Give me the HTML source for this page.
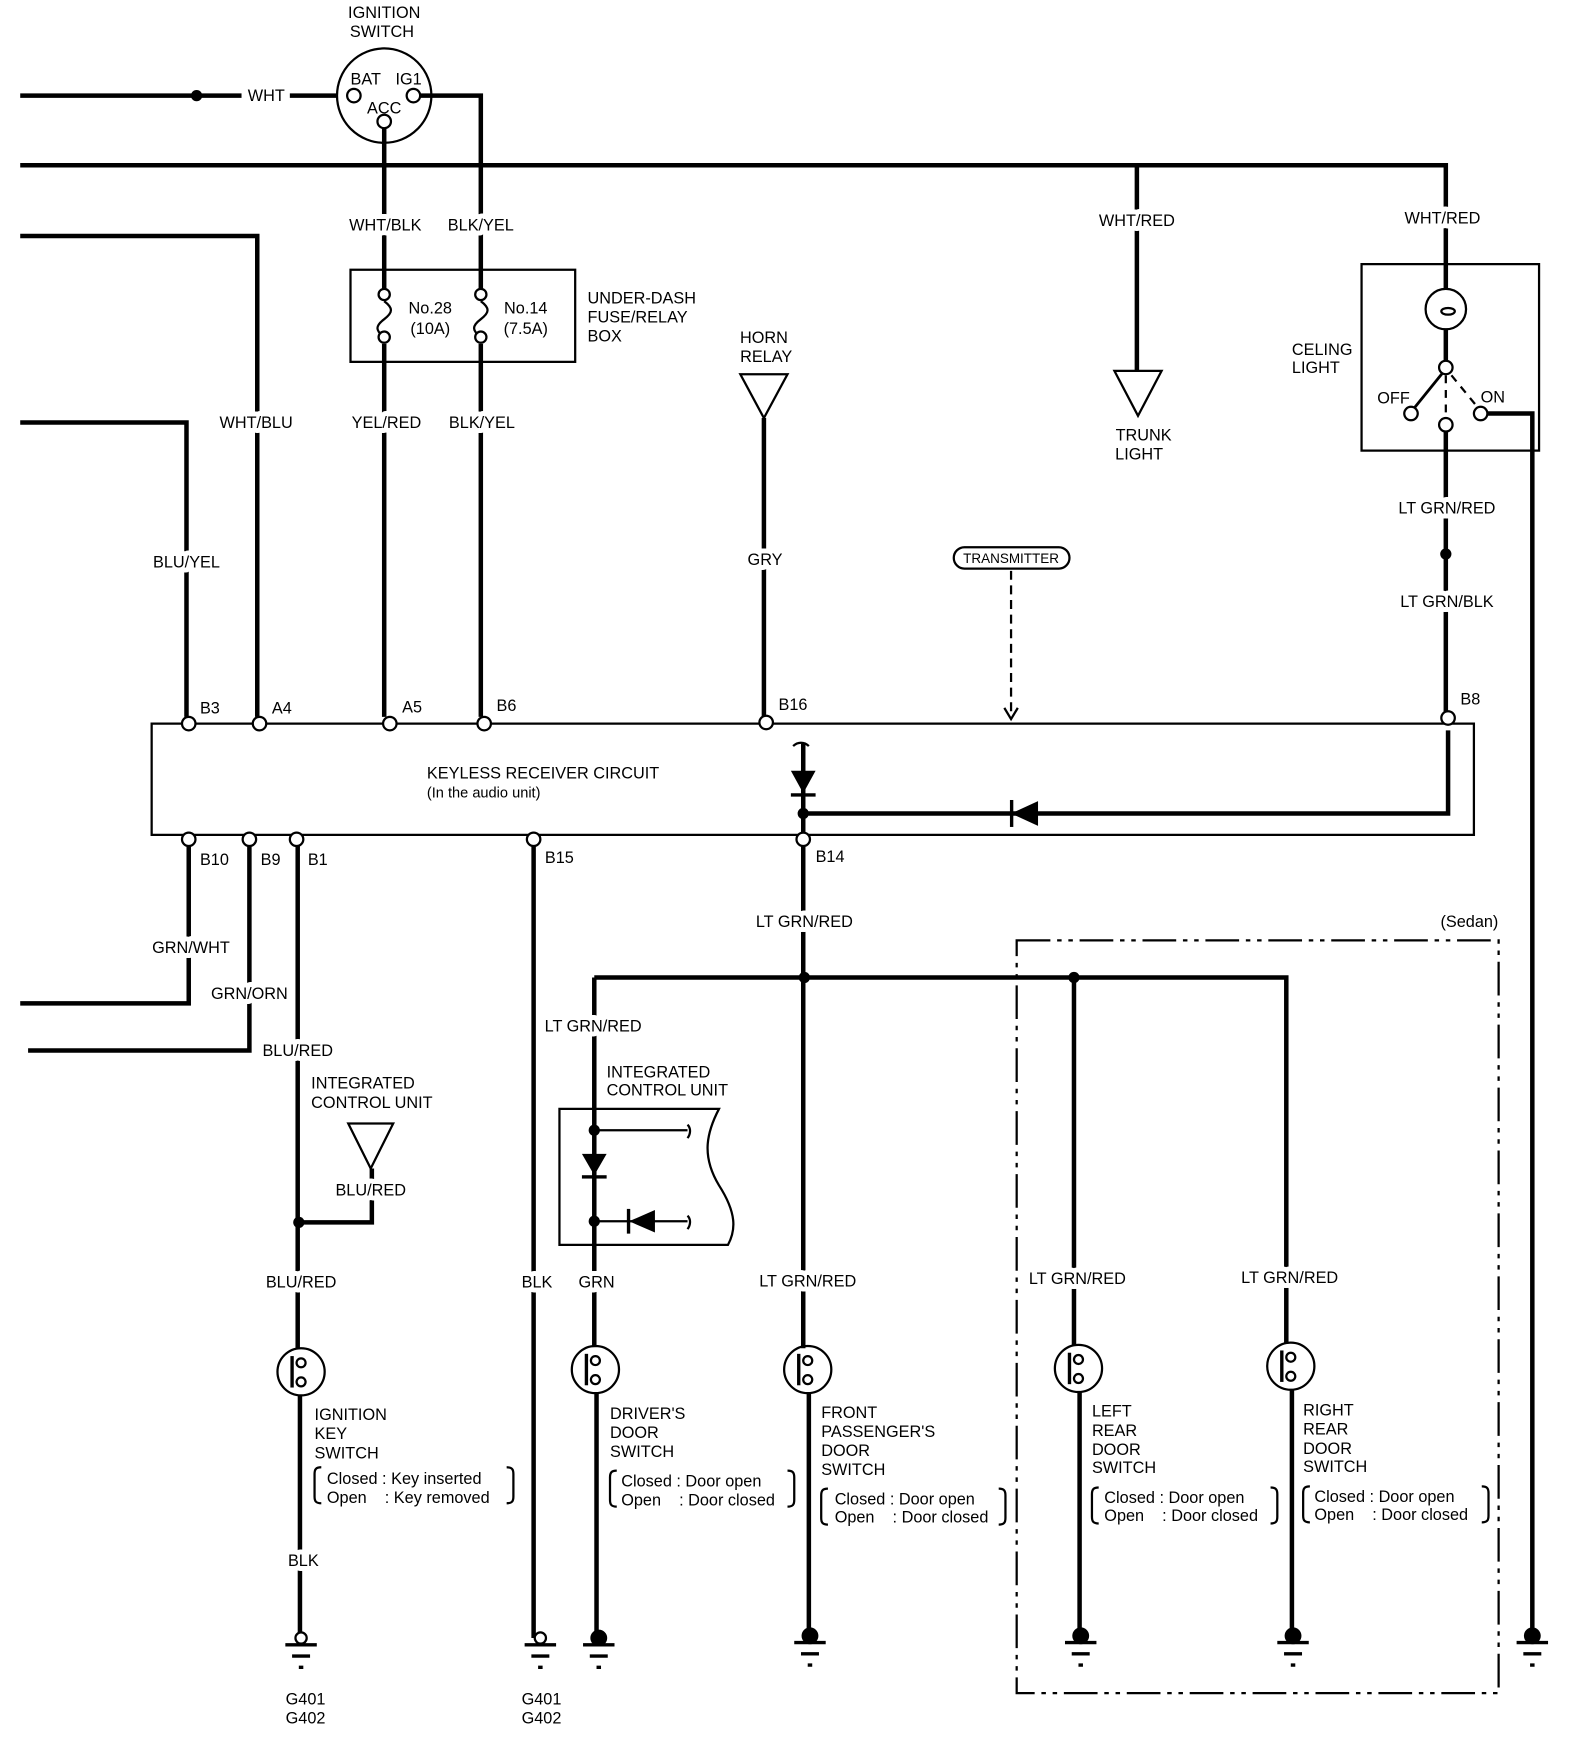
<!DOCTYPE html>
<html><head><meta charset="utf-8"><style>
html,body{margin:0;padding:0;background:#fff;}
svg{display:block;}
text{font-family:"Liberation Sans",sans-serif;font-size:14.5px;fill:#000;}
.w{stroke:#fff;stroke-width:9px;paint-order:stroke;stroke-linejoin:round;}
</style></head><body>
<svg width="1584" height="1764" viewBox="0 0 1410 1570" xmlns="http://www.w3.org/2000/svg">
<g fill="none" stroke="#000" stroke-width="4">
<path d="M18 85H215M258 85H300"/>
<path d="M374 85H428V258"/>
<path d="M342 114V258"/>
<path d="M18 147H1287V258"/>
<path d="M1012 147V330"/>
<path d="M342 306V638"/>
<path d="M428 306V638"/>
<path d="M18 210H229V638"/>
<path d="M18 376H166V638"/>
<path d="M680 372V638"/>
<path d="M1287 293V321"/>
<path d="M1287 384V638"/>
<path d="M1324 368H1364V1458"/>
<path d="M168 753V893H18"/>
<path d="M222 753V935H25"/>
<path d="M265 753V1200"/>
<path d="M266 1088H331V1040"/>
<path d="M475 753V1458"/>
<path d="M715 753V1200"/>
<path d="M529 870H1145V1196"/>
<path d="M529 870V1199"/>
<path d="M956 870V1198"/>
<path d="M715 662V745"/>
<path d="M715 724H1289V650"/>
<path d="M267 1242V1458"/>
<path d="M531 1240V1458"/>
<path d="M720 1240V1458"/>
<path d="M961 1239V1458"/>
<path d="M1150 1237V1458"/>
</g>
<g fill="none" stroke="#000" stroke-width="2">
<circle cx="342" cy="85" r="42"/>
<rect x="312" y="240" width="200" height="82"/>
<path d="M342 268c8 6 8 10 0 16s-8 10 0 16"/>
<path d="M428 268c8 6 8 10 0 16s-8 10 0 16"/>
<path d="M659 333H701L680 372Z"/>
<path d="M992 330H1034L1013 370Z"/>
<path d="M310 1000H350L330 1040Z"/>
<rect x="1212" y="235" width="158" height="166"/>
<circle cx="1287" cy="275" r="18"/>
<ellipse cx="1289" cy="277" rx="6" ry="3"/>
<path d="M1284 332L1259 363" stroke-width="2.5"/>
<path d="M1287 334V373M1292 334L1315 362" stroke-dasharray="7 6"/>
<path d="M135 644H1312V743H135Z"/>
<rect x="849" y="487" width="103" height="19" rx="9.5"/>
<path d="M900 508V638" stroke-dasharray="8 5"/>
<path d="M894 630L900 640L906 630"/>
<path d="M706 664c4-4 10-4 14 0"/>
<path d="M498 987H640C628 1010 625 1030 640 1055C656 1080 655 1095 648 1108H498Z"/>
<path d="M529 1006H612M612 1001c3 3 3 8 0 12"/>
<path d="M529 1087H612M612 1082c3 3 3 8 0 12"/>
<path d="M905 837H1334V1507H905Z" stroke-dasharray="30 6 4 6 4 6"/>
<path d="M286 1306c-5 0-6 2-6 6v20c0 4 1 6 6 6M451 1306c5 0 6 2 6 6v20c0 4-1 6-6 6"/>
<path d="M549 1309c-5 0-6 2-6 6v20c0 4 1 6 6 6M701 1309c5 0 6 2 6 6v20c0 4-1 6-6 6"/>
<path d="M737 1325c-5 0-6 2-6 6v20c0 4 1 6 6 6M889 1325c5 0 6 2 6 6v20c0 4-1 6-6 6"/>
<path d="M978 1324c-5 0-6 2-6 6v20c0 4 1 6 6 6M1131 1324c5 0 6 2 6 6v20c0 4-1 6-6 6"/>
<path d="M1166 1323c-5 0-6 2-6 6v20c0 4 1 6 6 6M1319 1323c5 0 6 2 6 6v20c0 4-1 6-6 6"/>
</g>
<g fill="#fff" stroke="#000" stroke-width="2">
<circle cx="315" cy="85" r="6"/><circle cx="368" cy="85" r="6"/><circle cx="342" cy="108" r="6"/>
<circle cx="342" cy="262" r="5"/><circle cx="342" cy="300" r="5"/>
<circle cx="428" cy="262" r="5"/><circle cx="428" cy="300" r="5"/>
<circle cx="1287" cy="327" r="6"/><circle cx="1256" cy="368" r="6"/><circle cx="1318" cy="368" r="6"/><circle cx="1287" cy="378" r="6"/>
<circle cx="168" cy="644" r="6"/><circle cx="231" cy="644" r="6"/><circle cx="347" cy="644" r="6"/><circle cx="431" cy="644" r="6"/><circle cx="682" cy="643" r="6"/><circle cx="1289" cy="639" r="6"/>
<circle cx="168" cy="747" r="6"/><circle cx="222" cy="747" r="6"/><circle cx="264" cy="747" r="6"/><circle cx="475" cy="747" r="6"/><circle cx="715" cy="747" r="6"/>
</g>
<g fill="#000">
<circle cx="175" cy="85" r="5"/><circle cx="1287" cy="493" r="5"/>
<circle cx="715" cy="724" r="5"/><circle cx="716" cy="870" r="5"/><circle cx="956" cy="870" r="5"/>
<circle cx="266" cy="1088" r="5"/><circle cx="529" cy="1006" r="5"/><circle cx="529" cy="1087" r="5"/>
<path d="M704 686H726L715 706Z"/><rect x="704" y="706" width="22" height="3"/>
<path d="M900 724L924 713V735Z"/><rect x="899" y="712" width="3" height="24"/>
<path d="M518 1027H540L529 1046Z"/><rect x="518" y="1046" width="22" height="3"/>
<path d="M560 1087L583 1077V1097Z"/><rect x="558" y="1076" width="3" height="22"/>
</g>
<g fill="none" stroke="#000" stroke-width="2">
<g transform="translate(268,1221)"><circle r="21"/><path d="M-8 -14V14" stroke-width="3"/><circle cx="0" cy="-8" r="4"/><circle cx="0" cy="9" r="4"/></g>
<g transform="translate(530,1219)"><circle r="21"/><path d="M-8 -14V14" stroke-width="3"/><circle cx="0" cy="-8" r="4"/><circle cx="0" cy="9" r="4"/></g>
<g transform="translate(719,1219)"><circle r="21"/><path d="M-8 -14V14" stroke-width="3"/><circle cx="0" cy="-8" r="4"/><circle cx="0" cy="9" r="4"/></g>
<g transform="translate(960,1218)"><circle r="21"/><path d="M-8 -14V14" stroke-width="3"/><circle cx="0" cy="-8" r="4"/><circle cx="0" cy="9" r="4"/></g>
<g transform="translate(1149,1216)"><circle r="21"/><path d="M-8 -14V14" stroke-width="3"/><circle cx="0" cy="-8" r="4"/><circle cx="0" cy="9" r="4"/></g>
</g>
<g stroke="#000" stroke-width="3">
<g transform="translate(268,1462)"><circle cy="-4" r="5" fill="#fff" stroke-width="2"/><path d="M-14 2H14M-8 12H8M-2 22H2"/></g>
<g transform="translate(481,1462)"><circle cy="-4" r="5" fill="#fff" stroke-width="2"/><path d="M-14 2H14M-8 12H8M-2 22H2"/></g>
<g transform="translate(533,1462)"><circle cy="-4" r="6" fill="#000"/><path d="M-14 2H14M-8 12H8M-2 22H2"/></g>
<g transform="translate(721,1460)"><circle cy="-4" r="6" fill="#000"/><path d="M-14 2H14M-8 12H8M-2 22H2"/></g>
<g transform="translate(962,1460)"><circle cy="-4" r="6" fill="#000"/><path d="M-14 2H14M-8 12H8M-2 22H2"/></g>
<g transform="translate(1151,1460)"><circle cy="-4" r="6" fill="#000"/><path d="M-14 2H14M-8 12H8M-2 22H2"/></g>
<g transform="translate(1364,1460)"><circle cy="-4" r="6" fill="#000"/><path d="M-14 2H14M-8 12H8M-2 22H2"/></g>
</g>
<g>
<text x="342" y="16" text-anchor="middle">IGNITION</text>
<text x="340" y="33" text-anchor="middle">SWITCH</text>
<text x="237" y="90" text-anchor="middle">WHT</text>
<text x="312" y="75">BAT</text><text x="352" y="75">IG1</text><text x="342" y="101" text-anchor="middle">ACC</text>
<text class="w" x="343" y="205" text-anchor="middle">WHT/BLK</text>
<text class="w" x="428" y="205" text-anchor="middle">BLK/YEL</text>
<text class="w" x="1012" y="201" text-anchor="middle">WHT/RED</text>
<text class="w" x="1284" y="199" text-anchor="middle">WHT/RED</text>
<text x="383" y="279" text-anchor="middle">No.28</text><text x="383" y="297" text-anchor="middle">(10A)</text>
<text x="468" y="279" text-anchor="middle">No.14</text><text x="468" y="297" text-anchor="middle">(7.5A)</text>
<text x="523" y="270">UNDER-DASH</text><text x="523" y="287">FUSE/RELAY</text><text x="523" y="304">BOX</text>
<text x="680" y="305" text-anchor="middle">HORN</text><text x="682" y="322" text-anchor="middle">RELAY</text>
<text x="1018" y="392" text-anchor="middle">TRUNK</text><text x="1014" y="409" text-anchor="middle">LIGHT</text>
<text x="1150" y="316">CELING</text><text x="1150" y="332">LIGHT</text>
<text x="1226" y="359">OFF</text><text x="1318" y="358">ON</text>
<text class="w" x="228" y="381" text-anchor="middle">WHT/BLU</text>
<text class="w" x="344" y="381" text-anchor="middle">YEL/RED</text>
<text class="w" x="429" y="381" text-anchor="middle">BLK/YEL</text>
<text class="w" x="1288" y="457" text-anchor="middle">LT GRN/RED</text>
<text class="w" x="1288" y="540" text-anchor="middle">LT GRN/BLK</text>
<text class="w" x="166" y="505" text-anchor="middle">BLU/YEL</text>
<text class="w" x="681" y="503" text-anchor="middle">GRY</text>
<text x="900" y="501" text-anchor="middle" style="font-size:12px">TRANSMITTER</text>
<text x="178" y="635">B3</text><text x="242" y="635">A4</text><text x="358" y="634">A5</text><text x="442" y="633">B6</text><text x="693" y="632">B16</text><text x="1300" y="627">B8</text>
<text x="380" y="693">KEYLESS RECEIVER CIRCUIT</text>
<text x="380" y="710" style="font-size:13px">(In the audio unit)</text>
<text x="178" y="770">B10</text><text x="232" y="770">B9</text><text x="274" y="770">B1</text><text x="485" y="768">B15</text><text x="726" y="767">B14</text>
<text class="w" x="716" y="825" text-anchor="middle">LT GRN/RED</text>
<text x="1308" y="825" text-anchor="middle">(Sedan)</text>
<text class="w" x="170" y="848" text-anchor="middle">GRN/WHT</text>
<text class="w" x="222" y="889" text-anchor="middle">GRN/ORN</text>
<text class="w" x="528" y="918" text-anchor="middle">LT GRN/RED</text>
<text class="w" x="265" y="940" text-anchor="middle">BLU/RED</text>
<text x="277" y="969">INTEGRATED</text><text x="277" y="986">CONTROL UNIT</text>
<text x="540" y="959">INTEGRATED</text><text x="540" y="975">CONTROL UNIT</text>
<text class="w" x="330" y="1064" text-anchor="middle">BLU/RED</text>
<text class="w" x="268" y="1146" text-anchor="middle">BLU/RED</text>
<text class="w" x="478" y="1146" text-anchor="middle">BLK</text>
<text class="w" x="531" y="1146" text-anchor="middle">GRN</text>
<text class="w" x="719" y="1145" text-anchor="middle">LT GRN/RED</text>
<text class="w" x="959" y="1143" text-anchor="middle">LT GRN/RED</text>
<text class="w" x="1148" y="1142" text-anchor="middle">LT GRN/RED</text>
<text x="280" y="1264">IGNITION</text><text x="280" y="1281">KEY</text><text x="280" y="1298">SWITCH</text>
<text x="291" y="1321">Closed : Key inserted</text><text x="291" y="1338">Open&#160;&#160;&#160; : Key removed</text>
<text x="543" y="1263">DRIVER'S</text><text x="543" y="1280">DOOR</text><text x="543" y="1297">SWITCH</text>
<text x="553" y="1323">Closed : Door open</text><text x="553" y="1340">Open&#160;&#160;&#160; : Door closed</text>
<text x="731" y="1262">FRONT</text><text x="731" y="1279">PASSENGER'S</text><text x="731" y="1296">DOOR</text><text x="731" y="1313">SWITCH</text>
<text x="743" y="1339">Closed : Door open</text><text x="743" y="1355">Open&#160;&#160;&#160; : Door closed</text>
<text x="972" y="1261">LEFT</text><text x="972" y="1278">REAR</text><text x="972" y="1295">DOOR</text><text x="972" y="1311">SWITCH</text>
<text x="983" y="1338">Closed : Door open</text><text x="983" y="1354">Open&#160;&#160;&#160; : Door closed</text>
<text x="1160" y="1260">RIGHT</text><text x="1160" y="1277">REAR</text><text x="1160" y="1294">DOOR</text><text x="1160" y="1310">SWITCH</text>
<text x="1170" y="1337">Closed : Door open</text><text x="1170" y="1353">Open&#160;&#160;&#160; : Door closed</text>
<text class="w" x="270" y="1394" text-anchor="middle">BLK</text>
<text x="272" y="1517" text-anchor="middle">G401</text><text x="272" y="1534" text-anchor="middle">G402</text>
<text x="482" y="1517" text-anchor="middle">G401</text><text x="482" y="1534" text-anchor="middle">G402</text>
</g>
</svg>
</body></html>
